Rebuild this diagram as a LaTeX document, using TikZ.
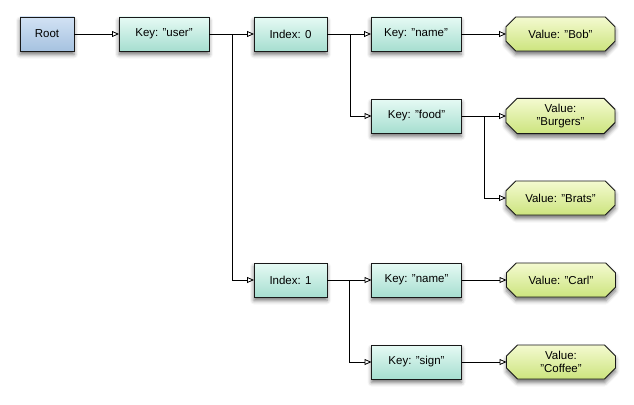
\documentclass[tikz,border=0pt]{standalone}
\usepackage{fontspec}
\setmainfont{Liberation Sans}
\usetikzlibrary{arrows.meta,shapes.misc,shadows.blur}
\definecolor{roottop}{HTML}{D2E2F4}
\definecolor{rootbot}{HTML}{A6C2E0}
\definecolor{keytop}{HTML}{E6FAF4}
\definecolor{keybot}{HTML}{A6DED0}
\definecolor{valtop}{HTML}{F4FAD0}
\definecolor{valbot}{HTML}{CCE47E}
\tikzset{
  base/.style={draw=black!90, line width=0.9pt, inner sep=0pt, outer sep=0pt,
    minimum height=34pt, align=center,
    font=\fontsize{11.5}{13.5}\selectfont,
    blur shadow={shadow xshift=0pt, shadow yshift=-3.5pt, shadow blur radius=4pt, shadow opacity=55}},
  rootbox/.style={base, rectangle, minimum width=54pt, top color=roottop, bottom color=rootbot},
  keybox/.style={base, rectangle, minimum width=90pt, top color=keytop, bottom color=keybot},
  idxbox/.style={base, rectangle, minimum width=73pt, top color=keytop, bottom color=keybot},
  valbox/.style={base, chamfered rectangle, chamfered rectangle xsep=5.5pt, chamfered rectangle ysep=5.5pt,
    minimum width=109pt, top color=valtop, bottom color=valbot},
  conn/.style={draw=black, line width=0.8pt, -{Triangle[open, length=7pt, width=6pt]}}
}
\begin{document}
\begin{tikzpicture}[x=1pt, y=-1pt]
\useasboundingbox (0,0) rectangle (634,404);
\node[rootbox] (root) at (47,34) {Root};
\node[keybox] (user) at (164,34) {Key: "user"};
\node[idxbox] (idx0) at (290.5,34) {Index: 0};
\node[keybox] (name0) at (416,34) {Key: "name"};
\node[valbox] (bob) at (560.5,34) {Value: "Bob"};
\node[keybox] (food) at (416.5,116) {Key: "food"};
\node[valbox] (burgers) at (560.5,116) {Value:\\"Burgers"};
\node[valbox] (brats) at (560.5,198) {Value: "Brats"};
\node[idxbox] (idx1) at (290.5,280) {Index: 1};
\node[keybox] (name1) at (416.5,280) {Key: "name"};
\node[valbox] (carl) at (561,280) {Value: "Carl"};
\node[keybox] (sign) at (416.5,362) {Key: "sign"};
\node[valbox] (coffee) at (561,362) {Value:\\"Coffee"};

\draw[conn] (root.east) -- (user.west);
\draw[conn] (user.east) -- (idx0.west);
\draw[conn] (user.east) -- ++(23,0) |- (idx1.west);
\draw[conn] (idx0.east) -- (name0.west);
\draw[conn] (idx0.east) -- ++(23,0) |- (food.west);
\draw[conn] (name0.east) -- (bob.west);
\draw[conn] (food.east) -- (burgers.west);
\draw[conn] (food.east) -- ++(23,0) |- (brats.west);
\draw[conn] (idx1.east) -- (name1.west);
\draw[conn] (idx1.east) -- ++(22,0) |- (sign.west);
\draw[conn] (name1.east) -- (carl.west);
\draw[conn] (sign.east) -- (coffee.west);
\end{tikzpicture}
\end{document}
